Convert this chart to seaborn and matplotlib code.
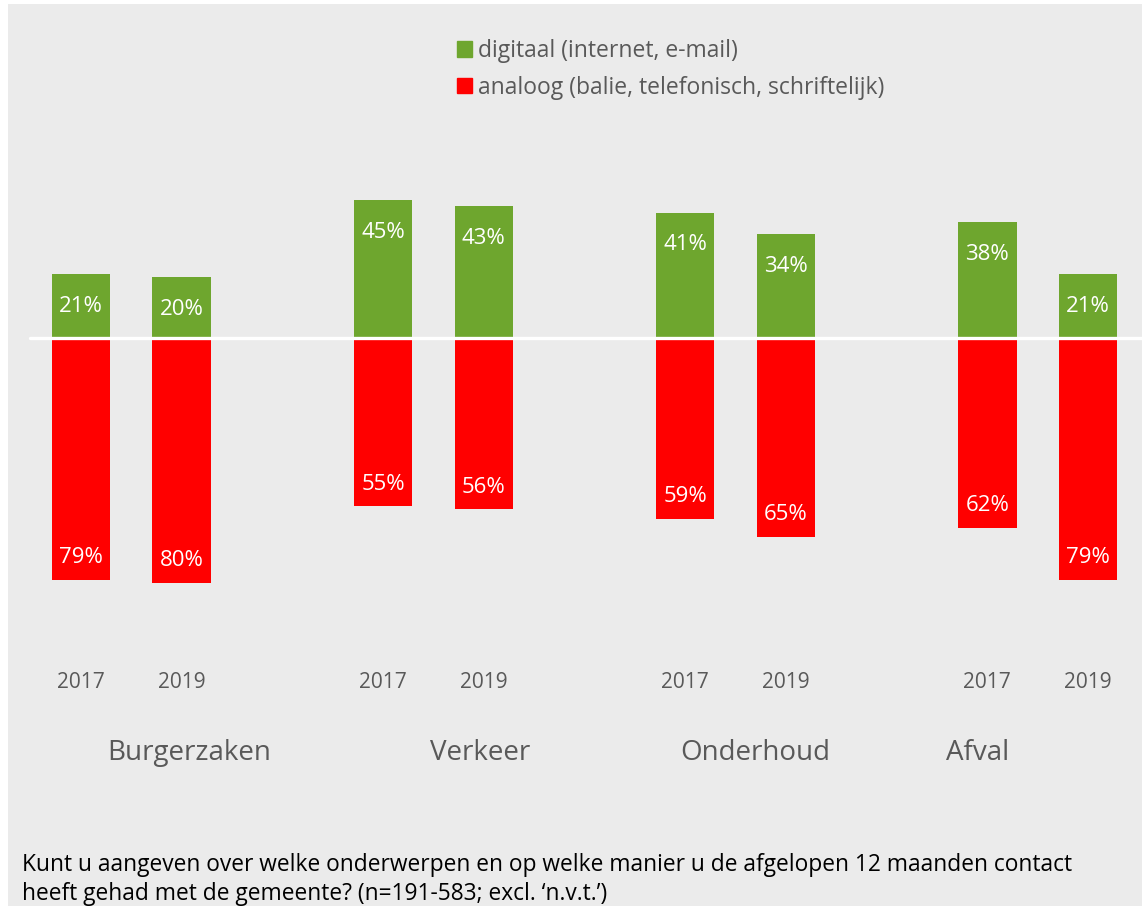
import numpy as np
import pandas as pd
import matplotlib.pyplot as plt
import seaborn as sns
from matplotlib.patches import Patch, Rectangle

# ============================
# DATA
# ============================
onderwerpen = ["Burgerzaken", "Verkeer", "Onderhoud", "Afval"]
jaren = ["2017", "2019"]
digitaal = [21, 20, 45, 43, 41, 34, 38, 21]
analoog = [79, 80, 55, 56, 59, 65, 62, 79]

# bar positions: pairs per topic, one empty slot between topics
posities = [0, 1, 3, 4, 6, 7, 9, 10]

GROEN = "#6ea62e"
ROOD = "#ff0000"
GRIJS = "#ebebeb"
TEKST = "#595959"

df = pd.DataFrame({
    "pos": posities * 2,
    "waarde": digitaal + [-v for v in analoog],
    "soort": ["digitaal"] * 8 + ["analoog"] * 8,
})

sns.set_theme(style="white")
plt.rcParams["font.family"] = ["Open Sans", "DejaVu Sans"]

fig = plt.figure(figsize=(11.42, 9.06), dpi=100, facecolor="white")
fig.patches.append(Rectangle((8 / 1142, 0), 1, 1 - 4 / 906, transform=fig.transFigure,
                             facecolor=GRIJS, edgecolor="none", zorder=-10))
ax = fig.add_axes([0, 0, 1, 1])
ax.set_facecolor("none")
ax.set_zorder(2)

sns.barplot(data=df, x="pos", y="waarde", hue="soort", native_scale=True,
            palette={"digitaal": GROEN, "analoog": ROOD}, width=0.58,
            dodge=False, saturation=1, legend=False, linewidth=0, ax=ax)

# zero line
ax.axhline(0, xmin=30 / 1142, xmax=1, color="white", lw=2.4, zorder=5)

# value labels
for p, d, a in zip(posities, digitaal, analoog):
    ax.text(p, d - 10.6, f"{d}%", ha="center", va="center", color="white", fontsize=16)
    ax.text(p, -(a - 7.2), f"{a}%", ha="center", va="center", color="white", fontsize=16)

# year labels
for i, p in enumerate(posities):
    ax.text(p, -112.5, jaren[i % 2], ha="center", va="center", color=TEKST, fontsize=15)

# topic labels
topic_x = [1.07, 3.96, 6.70, 8.90]
for naam, x in zip(onderwerpen, topic_x):
    ax.text(x, -135.5, naam, ha="center", va="center", color=TEKST, fontsize=20)

unit = 100.7
ax.set_xlim(-81 / unit, (1142 - 81) / unit)
ax.set_ylim(-(906 - 338) / 3.06, 338 / 3.06)
ax.axis("off")

# legend
handles = [Patch(color=GROEN, label="digitaal (internet, e-mail)"),
           Patch(color=ROOD, label="analoog (balie, telefonisch, schriftelijk)")]
fig.legend(handles=handles, loc="upper left", bbox_to_anchor=(448 / 1142, 1 - 30 / 906),
           frameon=False, fontsize=16.5, labelcolor=TEKST, handlelength=0.65,
           handleheight=0.65, handletextpad=0.25, labelspacing=0.55, borderaxespad=0)

# question caption
fig.text(22 / 1142, 1 - 865 / 906,
         "Kunt u aangeven over welke onderwerpen en op welke manier u de afgelopen 12 maanden contact",
         ha="left", va="center", color="black", fontsize=16.4)
fig.text(22 / 1142, 1 - 894 / 906,
         "heeft gehad met de gemeente? (n=191-583; excl. \u2018n.v.t.\u2019)",
         ha="left", va="center", color="black", fontsize=16.4)

fig.savefig("out.png", dpi=100, facecolor=fig.get_facecolor())
